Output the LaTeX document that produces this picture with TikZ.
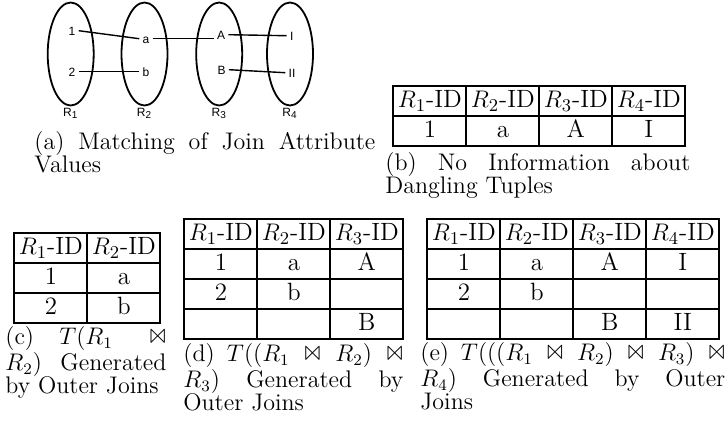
\documentclass[tikz,border=0pt]{standalone}
\usepackage{latexsym}
\usepackage{fontspec}
\newfontfamily\helv{Liberation Sans}
\usetikzlibrary{shapes.geometric,matrix,positioning}
\newcommand\cptfont{\fontsize{12}{11.75}\selectfont}
\newcommand\tblfont{\fontsize{12.5}{13}\selectfont}
\newcommand\valfont{\helv\fontsize{6}{7}\selectfont}

\begin{document}
\begin{tikzpicture}[x=0.5pt,y=-0.5pt,
  rel/.style={draw,ellipse,line width=0.9pt,minimum width=23pt,minimum height=51.5pt,inner sep=0pt},
  rlbl/.style={font=\valfont,inner sep=0.5pt},
  val/.style={font=\valfont,inner sep=1.5pt,text height=4.3pt,text depth=0pt},
  lnk/.style={line width=0.7pt},
  tbl/.style={matrix of nodes,anchor=north west,inner sep=0pt,column sep=-1pt,row sep=-1pt,
    nodes in empty cells,
    nodes={draw,line width=1pt,minimum width=36.5pt,minimum height=15pt,inner sep=0pt,
      font=\tblfont,text height=8.8pt,text depth=2.7pt}},
  cpt/.style={font=\cptfont,align=justify,inner sep=0pt,anchor=north west}]
  \useasboundingbox (0,0) rectangle (728,424);

  \node[rel,label={[rlbl]below:R\textsubscript{1}}] (R1) at (70.7,54) {};
  \node[rel,label={[rlbl]below:R\textsubscript{2}}] (R2) at (144.5,54) {};
  \node[rel,label={[rlbl]below:R\textsubscript{3}}] (R3) at (219.2,54) {};
  \node[rel,label={[rlbl]below:R\textsubscript{4}}] (R4) at (290,54) {};
  \node[val] (v1) at (72,30.7) {1};
  \node[val] (v2) at (72,71.7) {2};
  \node[val] (va) at (146,38.7) {a};
  \node[val] (vb) at (146,71.7) {b};
  \node[val] (vA) at (221,34.7) {A};
  \node[val] (vB) at (221.5,69.7) {B};
  \node[val] (vI) at (291.7,35.7) {I};
  \node[val] (vII) at (292,72.7) {II};
  \draw[lnk] (v1.east) -- (va.west);
  \draw[lnk] (v2.east) -- (vb.west);
  \draw[lnk] (va.east) -- (va.east -| vA.west);
  \draw[lnk] (vA.east) -- (vI.west);
  \draw[lnk] (vB.east) -- (vII.west);
  \node[cpt,text width=170.5pt] (capA) at (34,131) {(a) Matching of Join Attribute\linebreak Values};

  \matrix[tbl] (tabB) at (392,85) {
    $R_1$-ID & $R_2$-ID & $R_3$-ID & $R_4$-ID \\
    1 & a & A & I \\
  };
  \node[cpt,text width=152.5pt] (capB) at (385,152) {(b) No Information about\linebreak Dangling Tuples};

  \matrix[tbl] (tabC) at (13,232) {
    $R_1$-ID & $R_2$-ID \\
    1 & a \\
    2 & b \\
  };
  \node[cpt,text width=80.5pt] (capC) at (5,326) {(c) $T(R_1 \Join$\linebreak $R_2)$ Generated\linebreak by Outer Joins};

  \matrix[tbl] (tabD) at (183,218) {
    $R_1$-ID & $R_2$-ID & $R_3$-ID \\
    1 & a & A \\
    2 & b & \\
    & & B \\
  };
  \node[cpt,text width=110pt] (capD) at (183,343) {(d) $T((R_1 \Join R_2) \Join$\linebreak $R_3)$ Generated by\linebreak Outer Joins};

  \matrix[tbl] (tabE) at (426,218) {
    $R_1$-ID & $R_2$-ID & $R_3$-ID & $R_4$-ID \\
    1 & a & A & I \\
    2 & b & & \\
    & & B & II \\
  };
  \node[cpt,text width=152.5pt] (capE) at (420,342) {(e) $T(((R_1 \Join R_2) \Join R_3) \Join$\linebreak $R_4)$ Generated by Outer\linebreak Joins};
\end{tikzpicture}
\end{document}
